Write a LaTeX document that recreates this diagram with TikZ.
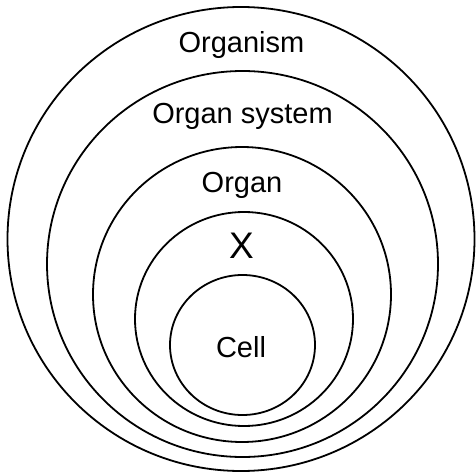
\documentclass[tikz,border=0pt]{standalone}
\usepackage{fontspec}
\setmainfont{Liberation Sans}
\begin{document}
\begin{tikzpicture}[x=1pt,y=1pt,
  ring/.style={draw=black,line width=1.8pt},
  lbl/.style={anchor=base,inner sep=0pt,font=\fontsize{29}{34}\selectfont},
  biglbl/.style={anchor=base,inner sep=0pt,font=\fontsize{37}{42}\selectfont}]
\useasboundingbox (0,0) rectangle (476,475);
\draw[ring] (241,236) ellipse [x radius=233.5, y radius=232];
\draw[ring] (242.5,211) ellipse [x radius=195.5, y radius=193];
\draw[ring] (242,180.5) ellipse [x radius=149, y radius=147.5];
\draw[ring] (244,156) ellipse [x radius=109, y radius=107];
\draw[ring] (242.5,130) ellipse [x radius=72.5, y radius=70];
\node[lbl] (organism) at (241.5,422) {Organism};
\node[lbl] (organsystem) at (242.5,352) {Organ system};
\node[lbl] (organ) at (242,283) {Organ};
\node[biglbl] (x) at (241.5,217) {X};
\node[lbl] (cell) at (241,118) {Cell};
\end{tikzpicture}
\end{document}
